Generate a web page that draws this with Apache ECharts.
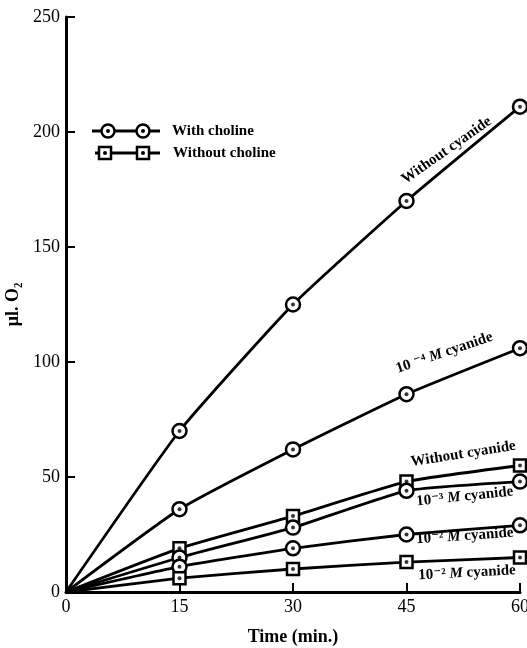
<!DOCTYPE html>
<html>
<head>
<meta charset="utf-8">
<script src="https://cdn.jsdelivr.net/npm/echarts@6/dist/echarts.min.js"></script>
<style>
  html, body { margin: 0; background: #fff; }
  #chart { width: 527px; height: 648px; }
</style>
</head>
<body>
<div id="chart"></div>
<script>
// time points (min.)
const times = [0, 15, 30, 45, 60];

// with choline (circles)
const cholineNoCyanide = [0, 70, 125, 170, 211];
const cholineCyanide4 = [0, 36, 62, 86, 106];
const cholineCyanide3 = [0, 15, 28, 44, 48];
const cholineCyanide2 = [0, 11, 19, 25, 29];

// without choline (squares)
const noCholineNoCyanide = [0, 19, 33, 48, 55];
const noCholineCyanide2 = [0, 6, 10, 13, 15];

const xTicks = [0, 15, 30, 45, 60];
const yTicks = [0, 50, 100, 150, 200, 250];

const SERIF = "'Liberation Serif', 'DejaVu Serif', serif";

const chart = echarts.init(document.getElementById("chart"));

const makeSeries = (name, values, shape) => {
  const pts = times.map((t, i) => [t, values[i]]);
  return [
    {
      name,
      type: "line",
      smooth: 0.15,
      data: pts.map((p, i) => (i === 0 ? { value: p, symbol: "none" } : p)),
      symbol: shape === "circle" ? "circle" : "rect",
      symbolSize: shape === "circle" ? 14 : 12,
      showAllSymbol: true,
      lineStyle: { color: "#000", width: 2.8 },
      itemStyle: { color: "#fff", borderColor: "#000", borderWidth: 2.5 },
      emphasis: { disabled: true },
      z: 3,
    },
    {
      name: name + " dots",
      type: "scatter",
      data: pts.slice(1),
      symbol: "circle",
      symbolSize: 4,
      itemStyle: { color: "#000" },
      emphasis: { disabled: true },
      z: 4,
    },
  ];
};

const option = {
  animation: false,
  backgroundColor: "#fff",
  grid: { left: 66, right: 7, top: 17, bottom: 56, outerBoundsMode: "none" },
  xAxis: {
    type: "value",
    min: 0,
    max: 60,
    interval: 15,
    name: "Time (min.)",
    nameLocation: "middle",
    nameGap: 36,
    nameTextStyle: { color: "#000", fontSize: 18, fontWeight: "bold", fontFamily: SERIF },
    axisLine: { lineStyle: { color: "#000", width: 3 } },
    axisTick: { inside: true, length: 9, lineStyle: { color: "#000", width: 2 } },
    axisLabel: {
      color: "#000",
      fontSize: 18,
      fontFamily: SERIF,
      margin: 6,
      formatter: (v) => (xTicks.includes(v) ? String(v) : ""),
    },
    splitLine: { show: false },
  },
  yAxis: {
    type: "value",
    min: 0,
    max: 250,
    interval: 50,
    name: "μl. O₂",
    nameLocation: "middle",
    nameGap: 44,
    nameRotate: 90,
    nameTextStyle: { color: "#000", fontSize: 18, fontWeight: "bold", fontFamily: SERIF },
    axisLine: { lineStyle: { color: "#000", width: 3 } },
    axisTick: { inside: true, length: 9, lineStyle: { color: "#000", width: 2 } },
    axisLabel: {
      color: "#000",
      fontSize: 18,
      fontFamily: SERIF,
      margin: 6,
      formatter: (v) => (yTicks.includes(v) ? String(v) : ""),
    },
    splitLine: { show: false },
  },
  series: [
    ...makeSeries("With choline, without cyanide", cholineNoCyanide, "circle"),
    ...makeSeries("With choline, 1e-4 M", cholineCyanide4, "circle"),
    ...makeSeries("Without choline, without cyanide", noCholineNoCyanide, "square"),
    ...makeSeries("With choline, 1e-3 M", cholineCyanide3, "circle"),
    ...makeSeries("With choline, 1e-2 M", cholineCyanide2, "circle"),
    ...makeSeries("Without choline, 1e-2 M", noCholineCyanide2, "square"),
  ],
};

chart.setOption(option);

// curve labels, anchored at data coordinates
const curveLabels = [
  { text: "Without cyanide", at: [50.3, 192], angle: 35 },
  { text: "10 ⁻⁴ {i|M} cyanide", at: [50, 104], angle: 19 },
  { text: "Without cyanide", at: [52.5, 60], angle: 9 },
  { text: "10⁻³ {i|M} cyanide", at: [52.7, 41.5], angle: 6 },
  { text: "10⁻² {i|M} cyanide", at: [52.7, 24.3], angle: 4 },
  { text: "10⁻² {i|M} cyanide", at: [53, 8.3], angle: 3 },
];

const labelFont = { fontSize: 15, fontWeight: "bold", fontFamily: SERIF };

const graphics = curveLabels.map((l) => {
  const [px, py] = chart.convertToPixel({ gridIndex: 0 }, l.at);
  return {
    type: "text",
    x: px,
    y: py,
    rotation: (l.angle * Math.PI) / 180,
    z: 10,
    style: {
      text: l.text,
      ...labelFont,
      fill: "#000",
      align: "center",
      verticalAlign: "middle",
      textAlign: "center",
      textVerticalAlign: "middle",
      rich: { i: { ...labelFont, fontStyle: "italic" } },
    },
  };
});

// legend drawn by hand (line with two markers)
const ring = (cx, cy) => [
  { type: "circle", shape: { cx, cy, r: 6.5 }, style: { fill: "#fff", stroke: "#000", lineWidth: 2.5 } },
  { type: "circle", shape: { cx, cy, r: 2 }, style: { fill: "#000" } },
];
const box = (cx, cy) => [
  { type: "rect", shape: { x: cx - 6, y: cy - 6, width: 12, height: 12 }, style: { fill: "#fff", stroke: "#000", lineWidth: 2.5 } },
  { type: "circle", shape: { cx, cy, r: 2 }, style: { fill: "#000" } },
];

graphics.push({
  type: "group",
  z: 10,
  children: [
    { type: "line", shape: { x1: 92, y1: 131, x2: 160, y2: 131 }, style: { stroke: "#000", lineWidth: 2.8 } },
    ...ring(108, 131),
    ...ring(143, 131),
    { type: "text", x: 172, y: 131, style: { text: "With choline", ...labelFont, fill: "#000", verticalAlign: "middle", textVerticalAlign: "middle" } },
    { type: "line", shape: { x1: 95, y1: 153, x2: 160, y2: 153 }, style: { stroke: "#000", lineWidth: 2.8 } },
    ...box(105, 153),
    ...box(143, 153),
    { type: "text", x: 173, y: 153, style: { text: "Without choline", ...labelFont, fill: "#000", verticalAlign: "middle", textVerticalAlign: "middle" } },
  ],
});

chart.setOption({ graphic: graphics });
</script>
</body>
</html>
